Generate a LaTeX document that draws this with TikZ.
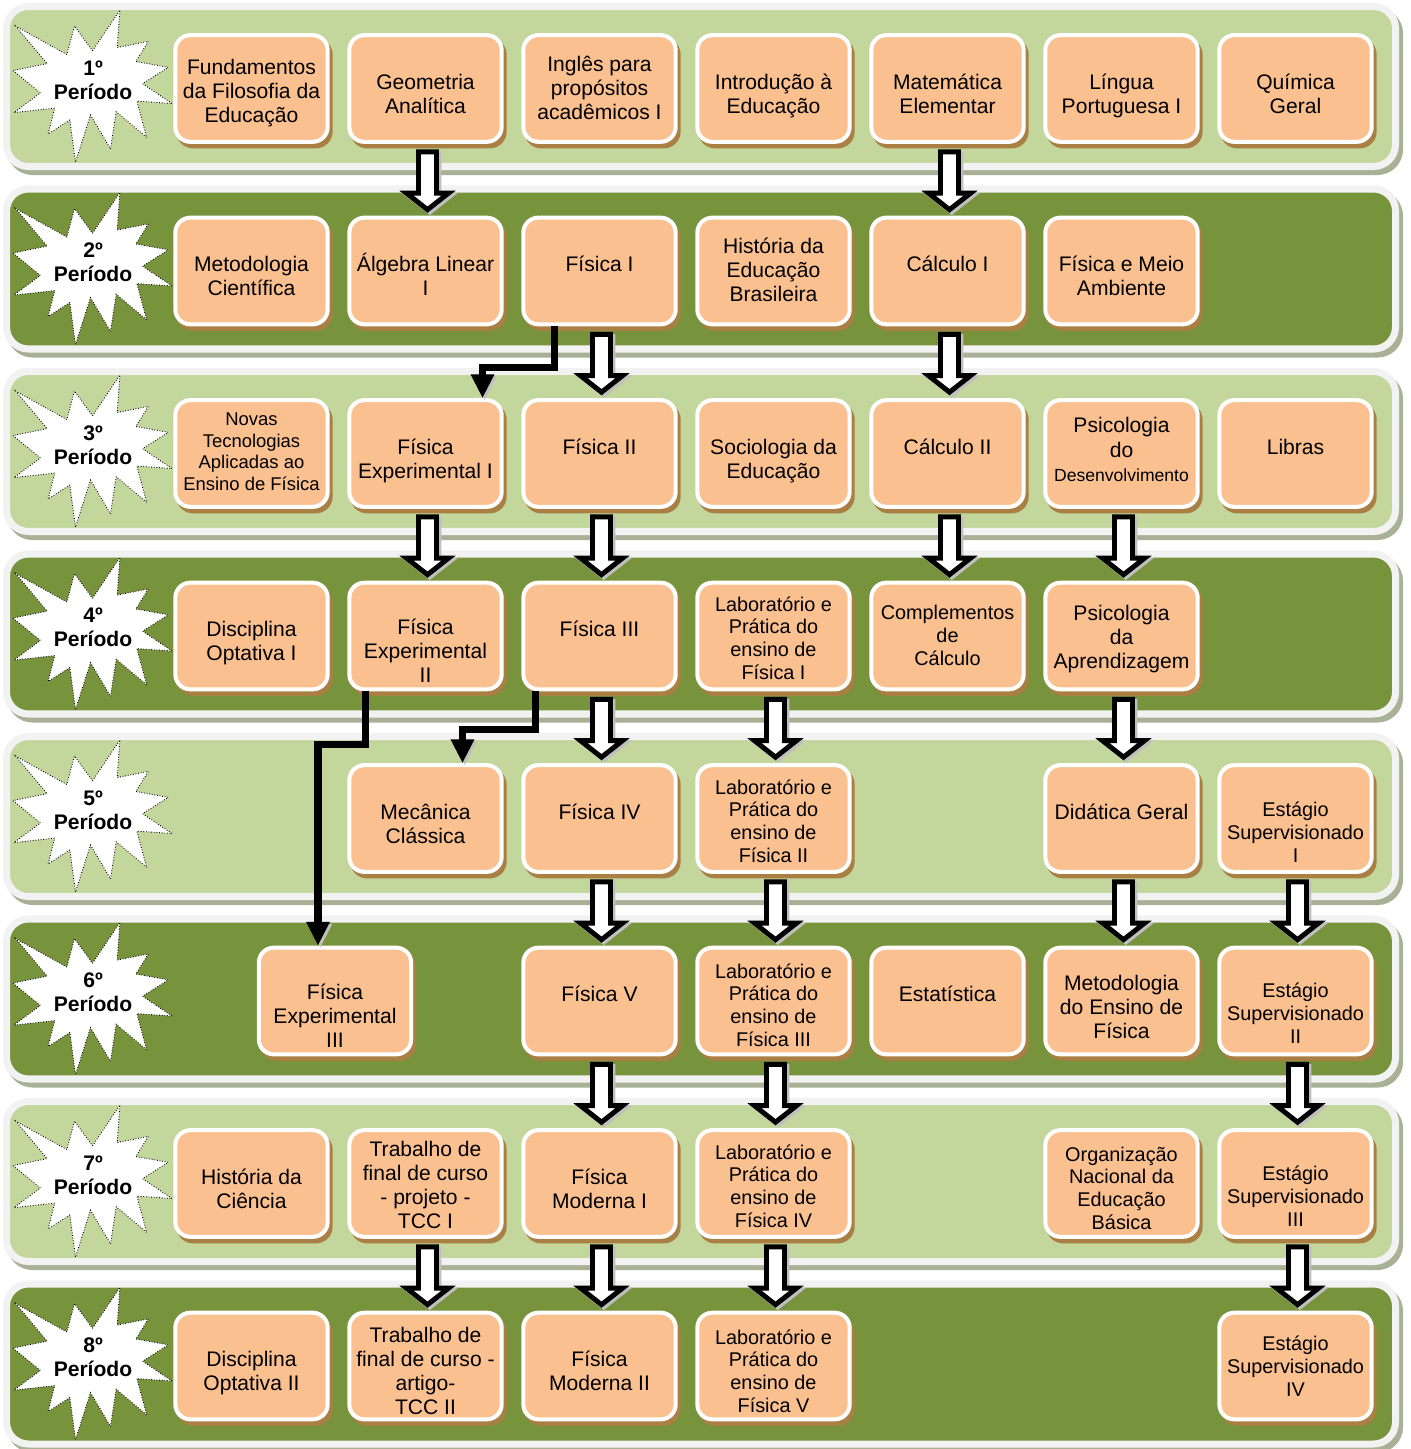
\documentclass[tikz,border=0pt]{standalone}
\usepackage{fontspec}
\setmainfont{Liberation Sans}
\usepackage{tikz}
\usetikzlibrary{arrows.meta, positioning, calc, shadows}
\definecolor{bandlight}{HTML}{C3D69B}
\definecolor{banddark}{HTML}{77933C}
\definecolor{bandedge}{HTML}{F2F2F2}
\definecolor{bandshadow}{HTML}{A8B196}
\definecolor{boxorange}{HTML}{FAC090}
\definecolor{boxshadow}{HTML}{A97F44}

% seta larga (branca com contorno preto) de uma disciplina para a seguinte
\newcommand{\seta}[2]{%
  \draw[bloco] ($(#1.south)+(-7,8)$) -- ($(#1.south)+(11,8)$)
    -- ($(#2.north)+(11,-22.5)$) -- ($(#2.north)+(23,-22.5)$)
    -- ($(#2.north)+(2,-6)$) -- ($(#2.north)+(-19,-22.5)$)
    -- ($(#2.north)+(-7,-22.5)$) -- cycle;}

\begin{document}
\begin{tikzpicture}[x=0.02cm, y=-0.02cm,
  disc/.style={rectangle, rounded corners=8.5pt, fill=boxorange, draw=white,
    line width=2.3pt, minimum width=86.7pt, minimum height=60.7pt,
    inner sep=1pt, align=center, font=\fontsize{12}{13.8}\selectfont,
    text height=28.3pt, text depth=0pt,
    drop shadow={shadow xshift=1.7pt, shadow yshift=-2.6pt, fill=boxshadow,
      draw=boxshadow, line width=2.3pt, opacity=1}},
  uma/.style={text height=0.6pt},
  desl/.style={text height=#1},
  pequena/.style={font=\fontsize{10.5}{12.3}\selectfont},
  media/.style={font=\fontsize{11.3}{12.9}\selectfont},
  periodo/.style={font=\bfseries\fontsize{12}{13.8}\selectfont, align=center, inner sep=0pt},
  estrela/.style={fill=white, draw=black, densely dotted, line width=0.5pt},
  bloco/.style={fill=white, draw=black, line width=2.8pt,
    drop shadow={shadow xshift=1.3pt, shadow yshift=-1.3pt, fill=black!25,
      draw=black!25, line width=2.8pt, opacity=1}},
  dobra/.style={draw=black, line width=4pt, -{Triangle[width=12.5pt, length=13.5pt]},
    preaction={draw=black!25, transform canvas={shift={(1.3pt,-1.3pt)}}}}]
  \useasboundingbox (0,0) rectangle (1410,1449);

  % faixas dos periodos
  \foreach \n/\cor in {1/bandlight, 2/banddark, 3/bandlight, 4/banddark,
                       5/bandlight, 6/banddark, 7/bandlight, 8/banddark} {
    \pgfmathsetmacro{\t}{10+182.5*(\n-1)}
    \filldraw[bandshadow, line width=4pt, rounded corners=12.5pt] (10.5,\t+1.5) rectangle ++(1389,160);
    \filldraw[fill=\cor, draw=bandedge, line width=4pt, rounded corners=12.5pt] (6.5,\t-3.5) rectangle ++(1389,160);
    \begin{scope}[shift={(13,\t)}]
      \filldraw[estrela] (79.5,40.8) -- (106.9,0) -- (104.2,37.5) -- (135.3,31.4)
        -- (122.9,51.5) -- (155.3,57.3) -- (129.6,73.7) -- (159,93.5) -- (123.9,91.1)
        -- (133.6,127.3) -- (103.2,101.7) -- (97.5,138.9) -- (77.5,105.1) -- (62.5,152)
        -- (56.8,110) -- (35.1,124) -- (41.7,98.1) -- (1,102.6) -- (27.4,82.9)
        -- (0,60.6) -- (34.1,53.6) -- (2.7,16.1) -- (53.8,44.5) -- (61.5,16.1) -- cycle;
    \end{scope}
    \node[periodo] (p\n) at (93,\t+70) {\n{}º\\Período};
  }

  % 1º periodo
  \node[disc, desl=39.1pt] (fund) at (251.5,88.5) {Fundamentos\\da Filosofia da\\Educação};
  \node[disc] (geo) at (425.5,88.5) {Geometria\\Analítica};
  \node[disc, desl=35.7pt] (ingl) at (599.5,88.5) {Inglês para\\propósitos\\acadêmicos I};
  \node[disc] (intro) at (773.5,88.5) {Introdução à\\Educação};
  \node[disc] (mat) at (947.5,88.5) {Matemática\\Elementar};
  \node[disc] (port) at (1121.5,88.5) {Língua\\Portuguesa I};
  \node[disc] (quim) at (1295.5,88.5) {Química\\Geral};

  % 2º periodo
  \node[disc] (met) at (251.5,271) {Metodologia\\Científica};
  \node[disc] (alg) at (425.5,271) {Álgebra Linear\\I};
  \node[disc, uma] (f1) at (599.5,271) {Física I};
  \node[disc, desl=35.2pt] (hist) at (773.5,271) {História da\\Educação\\Brasileira};
  \node[disc, uma] (calc1) at (947.5,271) {Cálculo I};
  \node[disc] (fma) at (1121.5,271) {Física e Meio\\Ambiente};

  % 3º periodo
  \node[disc, pequena, desl=42.2pt] (novas) at (251.5,453.5) {Novas\\Tecnologias\\Aplicadas ao\\Ensino de Física};
  \node[disc] (fe1) at (425.5,453.5) {Física\\Experimental I};
  \node[disc, uma] (f2) at (599.5,453.5) {Física II};
  \node[disc] (soc) at (773.5,453.5) {Sociologia da\\Educação};
  \node[disc, uma] (calc2) at (947.5,453.5) {Cálculo II};
  \node[disc, desl=31.6pt] (psid) at (1121.5,453.5) {Psicologia\\do\\{\fontsize{10}{12}\selectfont Desenvolvimento}};
  \node[disc, uma] (lib) at (1295.5,453.5) {Libras};

  % 4º periodo
  \node[disc] (opt1) at (251.5,636) {Disciplina\\Optativa I};
  \node[disc, desl=53.3pt] (fe2) at (425.5,636) {Física\\Experimental\\II};
  \node[disc, uma] (f3) at (599.5,636) {Física III};
  \node[disc, media, desl=49.1pt] (lab1) at (773.5,636) {Laboratório e\\Prática do\\ensino de\\Física I};
  \node[disc, media, desl=33.2pt] (compl) at (947.5,636) {Complementos\\de\\Cálculo};
  \node[disc, desl=37.4pt] (psia) at (1121.5,636) {Psicologia\\da\\Aprendizagem};

  % 5º periodo
  \node[disc] (mc) at (425.5,818.5) {Mecânica\\Clássica};
  \node[disc, uma] (f4) at (599.5,818.5) {Física IV};
  \node[disc, media, desl=49.7pt] (lab2) at (773.5,818.5) {Laboratório e\\Prática do\\ensino de\\Física II};
  \node[disc, uma] (did) at (1121.5,818.5) {Didática Geral};
  \node[disc, media, desl=49.7pt] (est1) at (1295.5,818.5) {Estágio\\Supervisionado\\I};

  % 6º periodo
  \node[disc, desl=53.3pt] (fe3) at (335,1001) {Física\\Experimental\\III};
  \node[disc, uma] (f5) at (599.5,1001) {Física V};
  \node[disc, media, desl=51.4pt] (lab3) at (773.5,1001) {Laboratório e\\Prática do\\ensino de\\Física III};
  \node[disc, uma] (estat) at (947.5,1001) {Estatística};
  \node[disc, desl=43.1pt] (meto) at (1121.5,1001) {Metodologia\\do Ensino de\\Física};
  \node[disc, media, desl=48pt] (est2) at (1295.5,1001) {Estágio\\Supervisionado\\II};

  % 7º periodo
  \node[disc] (hc) at (251.5,1183.5) {História da\\Ciência};
  \node[disc, desl=51.6pt] (tcc1) at (425.5,1183.5) {Trabalho de\\final de curso\\- projeto -\\TCC I};
  \node[disc] (fm1) at (599.5,1183.5) {Física\\Moderna I};
  \node[disc, media, desl=49.7pt] (lab4) at (773.5,1183.5) {Laboratório e\\Prática do\\ensino de\\Física IV};
  \node[disc, media, desl=52pt] (org) at (1121.5,1183.5) {Organização\\Nacional da\\Educação\\Básica};
  \node[disc, media, desl=48.5pt] (est3) at (1295.5,1183.5) {Estágio\\Supervisionado\\III};

  % 8º periodo
  \node[disc] (opt2) at (251.5,1366) {Disciplina\\Optativa II};
  \node[disc, desl=55.6pt] (tcc2) at (425.5,1366) {Trabalho de\\final de curso -\\artigo-\\TCC II};
  \node[disc] (fm2) at (599.5,1366) {Física\\Moderna II};
  \node[disc, media, desl=52.5pt] (lab5) at (773.5,1366) {Laboratório e\\Prática do\\ensino de\\Física V};
  \node[disc, media, desl=34.4pt] (est4) at (1295.5,1366) {Estágio\\Supervisionado\\IV};

  % pre-requisitos
  \seta{geo}{alg} \seta{mat}{calc1}
  \seta{f1}{f2} \seta{calc1}{calc2}
  \seta{fe1}{fe2} \seta{f2}{f3} \seta{calc2}{compl} \seta{psid}{psia}
  \seta{f3}{f4} \seta{lab1}{lab2} \seta{psia}{did}
  \seta{f4}{f5} \seta{lab2}{lab3} \seta{did}{meto} \seta{est1}{est2}
  \seta{f5}{fm1} \seta{lab3}{lab4} \seta{est2}{est3}
  \seta{tcc1}{tcc2} \seta{fm1}{fm2} \seta{lab4}{lab5} \seta{est3}{est4}

  \draw[dobra] ($(f1.south)+(-45,0)$) -- ++(0,41) -| ($(fe1.north)+(57,0)$);
  \draw[dobra] ($(fe2.south)+(-60,0)$) -- ++(0,53) -| ($(fe3.north)+(-17,0)$);
  \draw[dobra] ($(f3.south)+(-64,0)$) -- ++(0,38) -| ($(mc.north)+(37,0)$);
\end{tikzpicture}
\end{document}
